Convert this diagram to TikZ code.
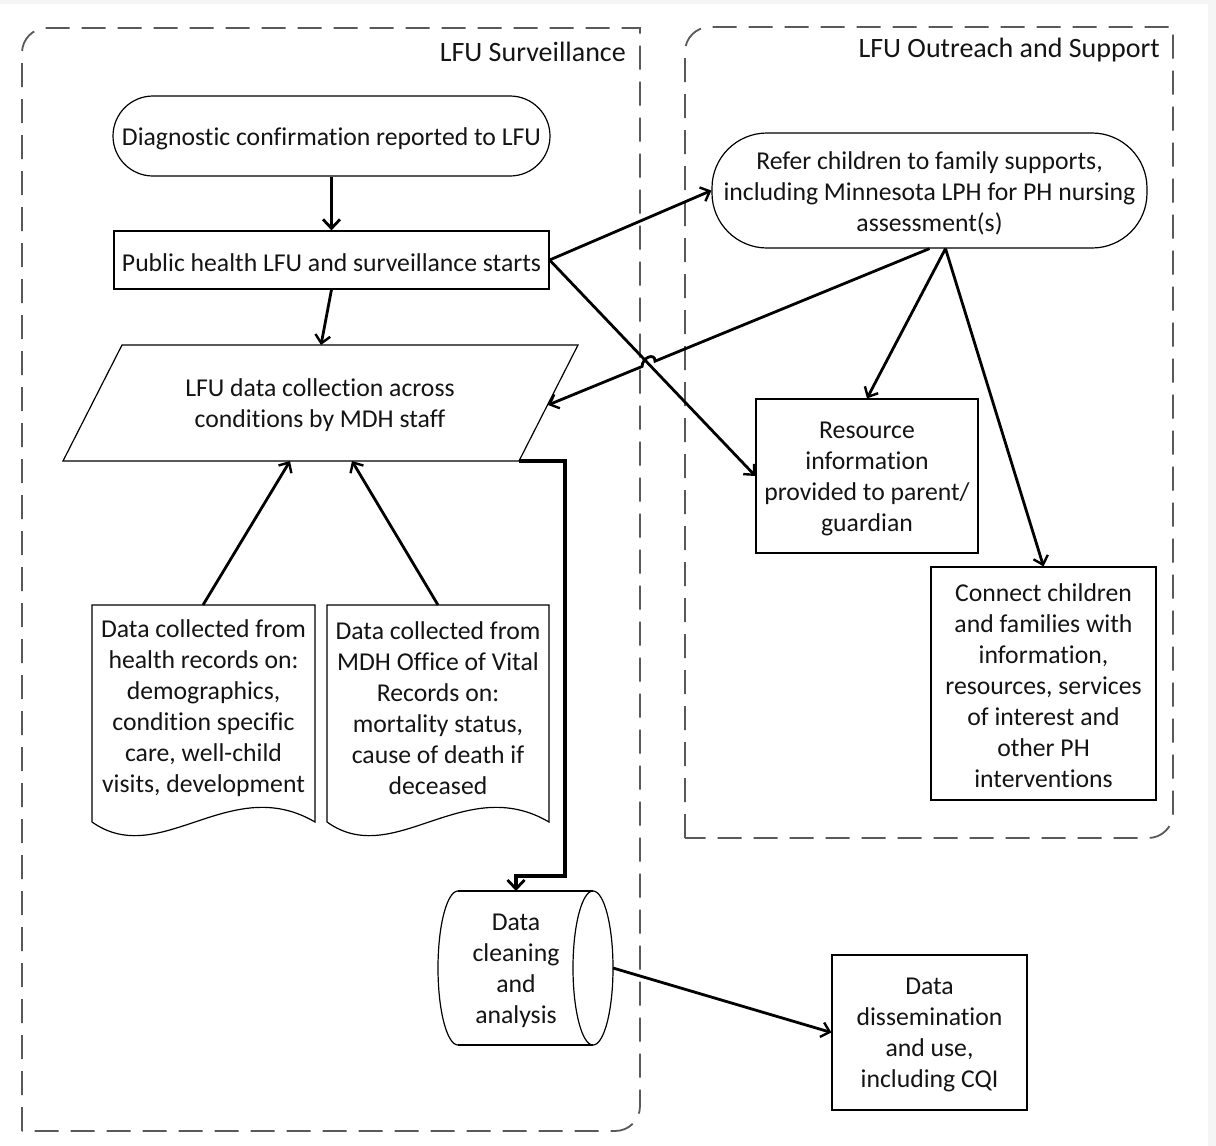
\documentclass[tikz,border=0pt]{standalone}
\usepackage{fontspec}
\setmainfont{Carlito}[Ligatures=CommonOff]
\usetikzlibrary{arrows.meta,calc}
\begin{document}
\begin{tikzpicture}[x=1pt,y=-1pt,
  txt/.style={font=\fontsize{25.7}{31}\selectfont, align=center, inner sep=0pt, text=black!92},
  ttl/.style={font=\fontsize{28}{32}\selectfont, inner sep=0pt, text=black!92},
  box/.style={draw, line width=1.2pt, font=\fontsize{25.7}{31}\selectfont, align=center, inner sep=0pt, text=black!92},
  lbl/.style={txt, yshift=-2.5pt},
  cont/.style={draw=black!65, line width=1.8pt, dash pattern=on 24pt off 12pt},
  conn/.style={line width=2.8pt, -{Straight Barb[length=8pt,width=15pt,line width=2.4pt]}},
  thick conn/.style={line width=3.8pt, -{Straight Barb[length=9pt,width=17pt,line width=2.8pt]}},
  shapeline/.style={line width=1.2pt}
]
\useasboundingbox (0,0) rectangle (1216,1146);
\fill[black!4] (0,0) rectangle (1216,1146);
\fill[white] (0,4) rectangle (1208,1146);

% containers
\draw[cont] (22,1131) -- (22,53) .. controls (22,39) and (33,28) .. (47,28) -- (640,28) -- (640,1106) .. controls (640,1120) and (629,1131) .. (615,1131) -- cycle;
\draw[cont] (685,838) -- (685,52) .. controls (685,38) and (696,27) .. (710,27) -- (1173,27) -- (1173,813) .. controls (1173,827) and (1162,838) .. (1148,838) -- cycle;
\node[ttl, anchor=east] (t1) at (626,52) {LFU Surveillance};
\node[ttl, anchor=east] (t2) at (1160,50) {LFU Outreach and Support};

% nodes
\node[box, rounded corners=40pt, minimum width=437pt, minimum height=80pt] (A) at (331.5,136) {};
\node[lbl] (At) at (A) {Diagnostic confirmation reported to LFU};
\node[box, minimum width=435pt, minimum height=58pt] (B) at (331.5,260) {};
\node[lbl] (Bt) at (B) {Public health LFU and surveillance starts};
\node[box, rounded corners=55pt, minimum width=435pt, minimum height=115pt] (G) at (929.5,190.5) {};
\node[lbl] (Gt) at (G) {Refer children to family supports,\\including Minnesota LPH for PH nursing\\assessment(s)};
\node[box, minimum width=222pt, minimum height=154pt] (H) at (867,476) {};
\node[lbl] (Ht) at (H) {Resource\\information\\provided to parent/\\guardian};
\node[box, minimum width=225pt, minimum height=233pt] (I) at (1043.5,683.5) {};
\node[lbl] (It) at (I) {Connect children\\and families with\\information,\\resources, services\\of interest and\\other PH\\interventions};
\node[box, minimum width=195pt, minimum height=155pt] (F) at (929.5,1032.5) {};
\node[lbl] (Ft) at (F) {Data\\dissemination\\and use,\\including CQI};

% parallelogram C
\draw[shapeline] (122,345) -- (578,345) -- (519,461) -- (63,461) -- cycle;
\node[lbl] (C) at (320,403) {LFU data collection across\\conditions by MDH staff};
\coordinate (Ctop) at (321,345);
\coordinate (Cright) at (548,405);
\coordinate (Cbl) at (290,461);
\coordinate (Cbr) at (352,461);
\coordinate (Ccorner) at (519,461);

% documents
\draw[shapeline] (92,822) -- (92,605) -- (315,605) -- (315,822) .. controls (230,772) and (160,870) .. (92,822);
\draw[shapeline] (327,822) -- (327,605) -- (549,605) -- (549,822) .. controls (464,772) and (394,870) .. (327,822);
\node[lbl] (D1) at (203.5,705.5) {Data collected from\\health records on:\\demographics,\\condition specific\\care, well-child\\visits, development};
\node[lbl] (D2) at (438,705.5) {Data collected from\\MDH Office of Vital\\Records on:\\mortality status,\\cause of death if\\deceased};
\coordinate (D1top) at (203,605);
\coordinate (D2top) at (438,605);

% cylinder E
\draw[shapeline] (458,891) -- (593,891) (458,1045) -- (593,1045);
\draw[shapeline] (458,891) .. controls (447,891) and (438,925.5) .. (438,968) .. controls (438,1010.5) and (447,1045) .. (458,1045);
\draw[shapeline] (593,968) ellipse [x radius=20pt, y radius=77pt];
\node[lbl] (E) at (516,968.5) {Data\\cleaning\\and\\analysis};
\coordinate (Etop) at (516,891);
\coordinate (Eright) at (613,968);

% connectors
\draw[thick conn] (A.south) -- (B.north);
\draw[conn] (B.south) -- (Ctop);
\draw[conn] (B.east) -- (G.west);
\draw[conn] (B.east) -- (H.west);
\coordinate (X) at (intersection of G.south--Cright and B.east--H.west);
\draw[conn] (G.south) -- ($(X)!7pt!(G.south)$) .. controls ($($(X)!7pt!(G.south)$)+(0,-9)$) and ($($(X)!7pt!(Cright)$)+(0,-9)$) .. ($(X)!7pt!(Cright)$) -- (Cright);
\coordinate (Gs2) at ([xshift=16pt]G.south);
\draw[conn] (Gs2) -- (H.north);
\draw[conn] (Gs2) -- (I.north);
\draw[conn] (D1top) -- (Cbl);
\draw[conn] (D2top) -- (Cbr);
\draw[thick conn] (Ccorner) -- (565,461) -- (565,876) -- (516,876) -- (Etop);
\draw[conn] (Eright) -- (F.west);
\end{tikzpicture}
\end{document}
